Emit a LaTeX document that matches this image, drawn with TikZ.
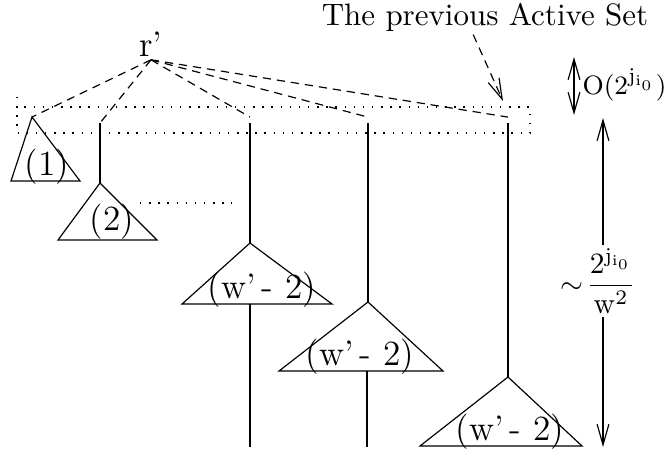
\documentclass[tikz,border=0pt]{standalone}
\usetikzlibrary{arrows.meta,positioning}
\begin{document}
\begin{tikzpicture}[
  x=0.339pt,y=-0.339pt,
  subtree/.style={draw,line width=0.4pt},
  stem/.style={line width=0.4pt},
  link/.style={line width=0.4pt,dash pattern=on 2.8pt off 2pt},
  dots/.style={line width=0.5pt,dash pattern=on 0.5pt off 2.6pt},
  lbl/.style={inner sep=1pt},
  >={Straight Barb[length=7pt,width=4pt]}
]
  \useasboundingbox (0,0) rectangle (667,452);

  % Root and the previous active set
  \node[lbl] (root) at (151,44) {\large r'};
  \node[lbl] (title) at (485,17) {\fontsize{10.5}{12}\selectfont The previous Active Set};
  \draw[dots] (17,97) -- (17,133) -- (530,133) -- (530,107) -- (17,107);
  \draw[dots] (140,203) -- (232,203);

  % Tops of the paths
  \coordinate (a1) at (32,117);
  \coordinate (a2) at (100,123);
  \coordinate (a3) at (250,123);
  \coordinate (a4) at (368,123);
  \coordinate (a5) at (508,123);
  \coordinate (setmark) at (503,101);

  % Subtree roots
  \coordinate (b2) at (100,183);
  \coordinate (b3) at (250,243);
  \coordinate (b4) at (368,302);
  \coordinate (b5) at (508,377);

  % Dashed links from the root
  \draw[link] (root.south) -- (a1);
  \draw[link] (root.south) -- (a2);
  \draw[link] (root.south) -- ([yshift=2pt]a3);
  \draw[link] (root.south) -- ([yshift=2pt]a4);
  \draw[link] (root.south) -- ([yshift=2pt]a5);
  \draw[link,->] ([xshift=-4pt]title.south) -- (setmark);

  % Paths down to the subtrees
  \draw[stem] (a2) -- (b2);
  \draw[stem] (a3) -- (b3);
  \draw[stem] (a4) -- (b4);
  \draw[stem] (a5) -- (b5);

  % Subtrees
  \draw[subtree] (a1) -- (80,181) -- (11,181) -- cycle;
  \node[lbl] (s1) at (47,167) {\large(1)};
  \draw[subtree] (b2) -- (157,240) -- (58,240) -- cycle;
  \node[lbl] (s2) at (112,222) {\large(2)};
  \draw[subtree] (b3) -- (332,304) -- (182,304) -- cycle;
  \node[lbl] (s3) at (262,290) {\large(w'\,-\,\,2)};
  \draw[subtree] (b4) -- (443,371) -- (279,371) -- cycle;
  \node[lbl] (s4) at (360,357) {\large(w'\,-\,\,2)};
  \draw[subtree] (b5) -- (582,446) -- (420,446) -- cycle;
  \node[lbl] (s5) at (510,432) {\large(w'\,-\,\,2)};

  % Tails below the subtrees
  \coordinate (e3) at (250,447);
  \coordinate (e4) at (367,447);
  \draw[stem] (250,304) -- (e3);
  \draw[stem] (367,371) -- (e4);

  % Heights on the right
  \coordinate (otop) at (574,57);
  \coordinate (obot) at (574,115);
  \draw[stem,<->] (otop) -- (obot);
  \node[inner sep=0pt,anchor=east] (oterm) at (667,85) {\fontsize{9.5}{11}\selectfont$\mathrm{O}(2^{\mathrm{j}_{\mathrm{i}_0}})$};

  \node[lbl] (hterm) at (598,281) {$\displaystyle\sim\!\frac{2^{\mathrm{j}_{\mathrm{i}_0}}}{\mathrm{w}^2}$};
  \coordinate (htop) at (603,118);
  \coordinate (hbot) at (603,447);
  \draw[stem,->] (hterm.north -| htop) -- (htop);
  \draw[stem,->] (hterm.south -| hbot) -- (hbot);
\end{tikzpicture}
\end{document}
